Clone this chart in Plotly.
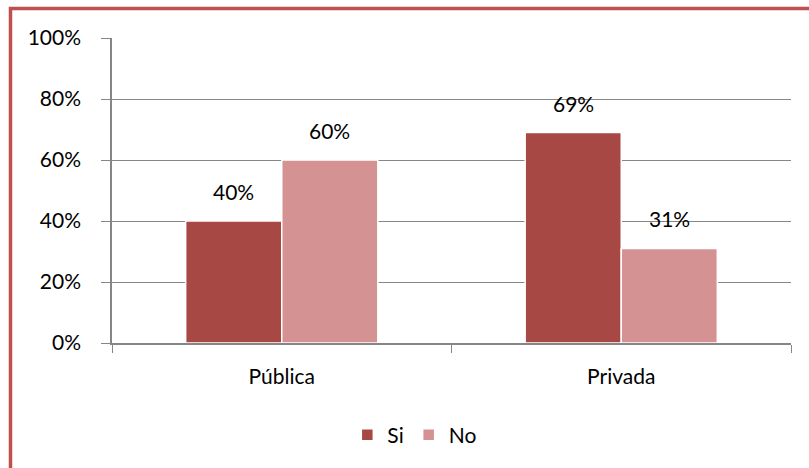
import plotly.graph_objects as go

categories = ["Pública", "Privada"]
si_values = [0.40, 0.69]
no_values = [0.60, 0.31]
series_names = ["Si", "No"]
y_ticks = [0, 0.2, 0.4, 0.6, 0.8, 1.0]
y_tick_labels = ["0%", "20%", "40%", "60%", "80%", "100%"]

colors = ["#A84845", "#D49392"]
FONT = "Lato"
FS = 21

fig = go.Figure()
for name, vals, col in zip(series_names, [si_values, no_values], colors):
    fig.add_trace(go.Bar(
        x=categories, y=vals, name=name,
        marker=dict(color=col, line=dict(color="white", width=1.5)),
    ))

# data labels
for vals, shift in zip([si_values, no_values], [-48, 48]):
    for c, v in zip(categories, vals):
        fig.add_annotation(x=c, y=v, xref="x", yref="y", text=f"{round(v*100)}%",
                           showarrow=False, xshift=shift, yanchor="bottom", yshift=15,
                           font=dict(family=FONT, size=FS, color="#000"))

# outer chart border (left/top visible)
fig.add_shape(type="rect", xref="paper", yref="paper",
              x0=-0.1495, y0=-0.6, x1=1.2, y1=1.0967,
              line=dict(color="#C0504D", width=3.5), fillcolor="rgba(0,0,0,0)",
              layer="above")

fig.update_layout(
    width=809, height=468,
    margin=dict(l=112, r=18, t=38, b=125),
    paper_bgcolor="white", plot_bgcolor="white",
    barmode="group", bargap=0.434, bargroupgap=0.0,
    font=dict(family=FONT, size=FS, color="#000"),
    showlegend=True,
    legend=dict(orientation="h", x=0.446, xanchor="center", y=-0.3016, yanchor="middle",
                font=dict(family=FONT, size=FS), itemwidth=30, traceorder="normal"),
    xaxis=dict(showline=True, linecolor="#868686", linewidth=1.5,
               ticks="outside", ticklen=8, tickcolor="#868686", tickson="boundaries",
               ticklabelstandoff=14,
               showgrid=False, tickfont=dict(family=FONT, size=FS)),
    yaxis=dict(range=[0, 1.0], tickvals=y_ticks, ticktext=y_tick_labels,
               showline=True, linecolor="#868686", linewidth=1.5,
               ticks="outside", ticklen=9, tickcolor="#868686",
               ticklabelstandoff=16,
               showgrid=True, gridcolor="#868686", gridwidth=1,
               zeroline=False, tickfont=dict(family=FONT, size=FS)),
)

fig.write_html("out.html")
